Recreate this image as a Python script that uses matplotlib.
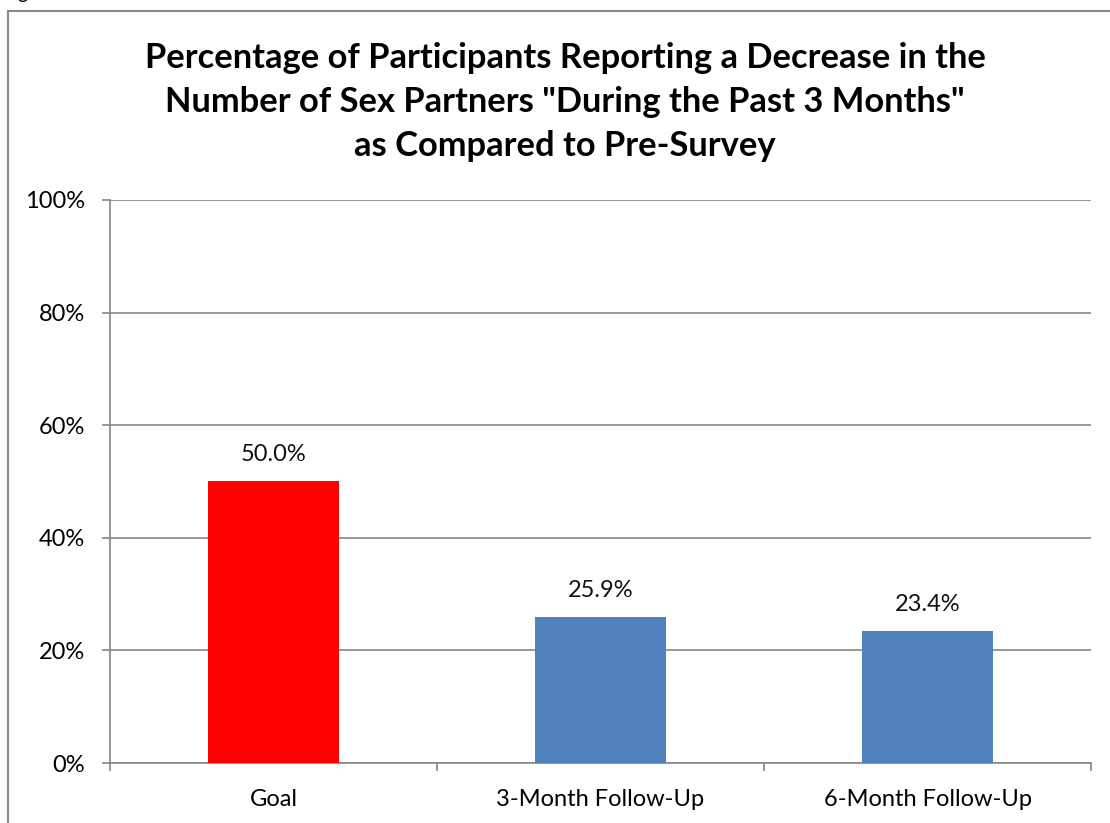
import matplotlib
matplotlib.use("Agg")
import matplotlib.pyplot as plt
from matplotlib.patches import Rectangle
from matplotlib.ticker import FixedLocator, PercentFormatter

# chart data
categories = ["Goal", "3-Month Follow-Up", "6-Month Follow-Up"]
values = [50.0, 25.9, 23.4]
bar_colors = ["#FF0000", "#4F81BD", "#4F81BD"]
title = ('Percentage of Participants Reporting a Decrease in the\n'
         'Number of Sex Partners "During the Past 3 Months"\n'
         'as Compared to Pre-Survey')

plt.rcParams['font.family'] = ['Lato', 'DejaVu Sans']
GRID = "#868686"

W, H = 1110, 823
fig = plt.figure(figsize=(W / 100, H / 100), dpi=100)
ax = fig.add_axes([110 / W, 1 - 763 / H, (1091 - 110) / W, (763 - 200) / H])

x = range(len(categories))
ax.bar(x, values, width=0.4, color=bar_colors, zorder=3)

for xi, v in zip(x, values):
    ax.annotate(f"{v:.1f}%", (xi, v), xytext=(0, 12), textcoords="offset points",
                ha="center", va="bottom", fontsize=17, color="#111111")

ax.set_xlim(-0.5, 2.5)
ax.set_ylim(0, 100)
ax.yaxis.set_major_locator(FixedLocator([0, 20, 40, 60, 80, 100]))
ax.yaxis.set_major_formatter(PercentFormatter(decimals=0))
ax.grid(axis="y", color=GRID, lw=1.2, zorder=0)

ax.set_xticks(list(x))
ax.set_xticklabels(categories)
ax.set_xticks([-0.5, 0.5, 1.5, 2.5], minor=True)
ax.tick_params(axis="x", which="major", length=0, pad=19, labelsize=17)
ax.tick_params(axis="x", which="minor", length=6, width=1.2, color=GRID)
ax.tick_params(axis="y", length=6, width=1.2, color=GRID, pad=12, labelsize=17)

for s in ["top", "right"]:
    ax.spines[s].set_visible(False)
for s in ["left", "bottom"]:
    ax.spines[s].set_color(GRID)
    ax.spines[s].set_linewidth(1.2)

fig.text(565 / W, 1 - 102 / H, title, ha="center", va="center",
         fontsize=24.8, fontweight="bold", linespacing=1.46)

# chart frame (cropped on right and bottom) and stray caption fragment
fig.patches.append(Rectangle((8 / W, -0.1), 1.2, 1.1 - 11 / H, transform=fig.transFigure,
                             fill=False, edgecolor="#898989", lw=1.5))
fig.text(17 / W, 1 + 1 / H, "g", fontsize=14, va="baseline")

fig.savefig("out.png", dpi=100)
